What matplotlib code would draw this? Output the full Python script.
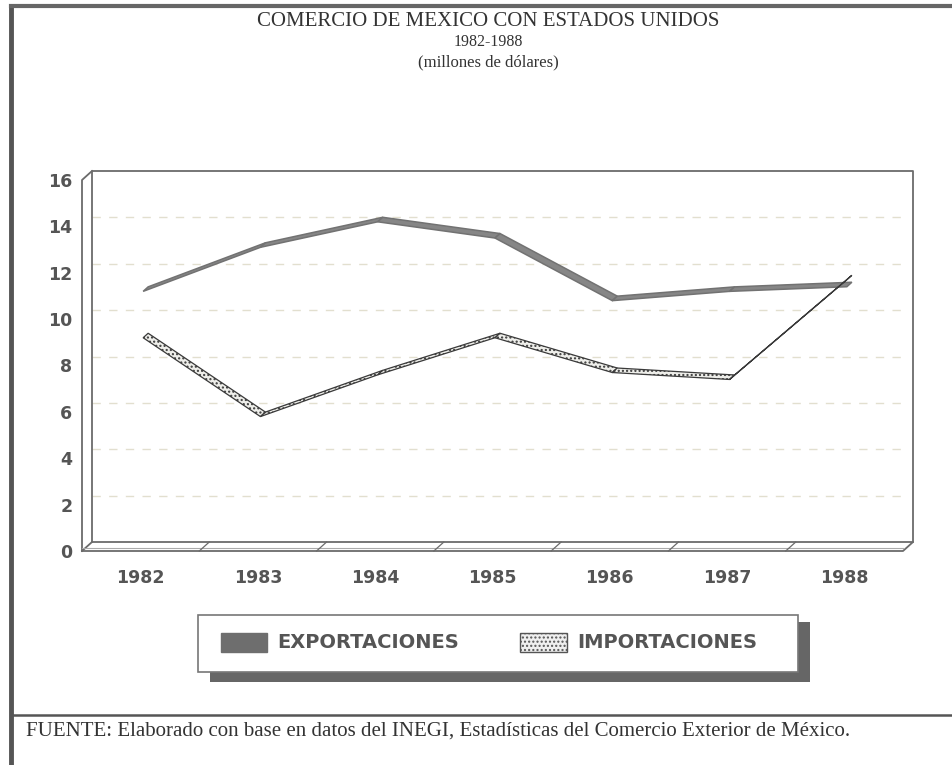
import matplotlib
matplotlib.use("Agg")
import matplotlib.pyplot as plt
from matplotlib.patches import Polygon, Rectangle

# datos (millones de dolares)
anios = ["1982", "1983", "1984", "1985", "1986", "1987", "1988"]
exportaciones = [11.1, 13.0, 14.1, 13.4, 10.7, 11.1, 11.3]
importaciones = [9.1, 5.7, 7.5, 9.1, 7.6, 7.3, 11.6]
ticks_y = [0, 2, 4, 6, 8, 10, 12, 14, 16]

W, H = 952, 765
plt.rcParams["hatch.color"] = "#bbbbbb"
fig = plt.figure(figsize=(W / 100, H / 100), dpi=100)
fig.patch.set_facecolor("white")

# ejes frontales (en pixeles de la figura)
x0, x1, ytop, ybot = 82, 903, 180, 551
ax = fig.add_axes([x0 / W, 1 - ybot / H, (x1 - x0) / W, (ybot - ytop) / H])
ax.set_xlim(-0.5, len(anios) - 0.5)
ax.set_ylim(0, 16)
ax.patch.set_alpha(0)
for s in ax.spines.values():
    s.set_visible(False)

# profundidad del "3d"
dpx, dpy = 10, 9
fx = dpx / (x1 - x0)
fy = dpy / (ybot - ytop)
# en unidades de datos
ux = dpx * (len(anios)) / (x1 - x0)
uy = dpy * 16 / (ybot - ytop)

frame_c = "#6b6b6b"
ta = ax.transAxes
# pared de fondo
ax.plot([fx, fx, 1 + fx, 1 + fx], [fy, 1 + fy, 1 + fy, fy], color=frame_c, lw=1.3,
        transform=ta, clip_on=False)
# pared izquierda
ax.plot([0, 0, fx], [0, 1, 1 + fy], color=frame_c, lw=1.3, transform=ta, clip_on=False)
# piso
ax.plot([0, 1, 1 + fx, fx], [0, 0, fy, fy], color=frame_c, lw=1.3, transform=ta, clip_on=False)
ax.plot([0, fx], [0, fy], color=frame_c, lw=1.3, transform=ta, clip_on=False)
ax.plot([0, 1], [0.35 * fy, 0.35 * fy], color="#aaaaaa", lw=0.8, transform=ta, clip_on=False)
for k in range(1, len(anios)):
    b = k / len(anios)
    ax.plot([b, b + fx], [0, fy], color=frame_c, lw=0.9, transform=ta, clip_on=False)

# lineas de rejilla en la pared de fondo
for v in ticks_y[1:-1]:
    ax.plot([-0.5 + ux, len(anios) - 0.5 + ux], [v + uy, v + uy], color="#e2dfcf",
            lw=1.0, ls=(0, (6, 6)), zorder=1)

# cintas (ribbons)
def cinta(vals, face, edge, lw, hatch=None):
    ox0, oy0 = ux * 0.25, uy * 0.25
    ox1, oy1 = ux * 0.75, uy * 0.75
    for i in range(len(vals) - 1):
        p = (i, vals[i])
        q = (i + 1, vals[i + 1])
        pts = [(p[0] + ox0, p[1] + oy0), (q[0] + ox0, q[1] + oy0),
               (q[0] + ox1, q[1] + oy1), (p[0] + ox1, p[1] + oy1)]
        ax.add_patch(Polygon(pts, closed=True, facecolor=face, edgecolor=edge,
                             lw=lw, hatch=hatch, joinstyle="miter", zorder=3))

cinta(exportaciones, "#868686", "#727272", 1.1)
cinta(importaciones, "#eeeeea", "#3a3a3a", 0.9, hatch="....")

# etiquetas de ejes
ax.set_xticks(range(len(anios)))
ax.set_xticklabels(anios)
ax.set_yticks(ticks_y)
ax.set_yticklabels([str(t) for t in ticks_y])
ax.tick_params(length=0, labelsize=12.5, labelcolor="#555555")
ax.tick_params(axis="x", pad=13)
ax.tick_params(axis="y", pad=7)
for lab in ax.get_xticklabels() + ax.get_yticklabels():
    lab.set_fontweight("bold")
    lab.set_family("DejaVu Sans")

# titulo
serif = "Liberation Serif"
fig.text(488 / W, 1 - 22 / H, "COMERCIO DE MEXICO CON ESTADOS UNIDOS", ha="center",
         va="center", fontsize=15, family=serif, color="#333333")
fig.text(488 / W, 1 - 42 / H, "1982-1988", ha="center", va="center", fontsize=11.5,
         family=serif, color="#333333")
fig.text(488 / W, 1 - 62 / H, "(millones de dólares)", ha="center", va="center",
         fontsize=12, family=serif, color="#333333")

# leyenda
fig.patches.append(Rectangle((210 / W, 1 - 682 / H), 600 / W, 60 / H, transform=fig.transFigure,
                             facecolor="#666666", edgecolor="none", zorder=1))
fig.patches.append(Rectangle((198 / W, 1 - 672 / H), 600 / W, 57 / H, transform=fig.transFigure,
                             facecolor="white", edgecolor="#777777", lw=1.2, zorder=2))
fig.patches.append(Rectangle((221 / W, 1 - 652 / H), 46 / W, 19 / H, transform=fig.transFigure,
                             facecolor="#6e6e6e", edgecolor="#6e6e6e", zorder=3))
fig.patches.append(Rectangle((520 / W, 1 - 652 / H), 47 / W, 19 / H, transform=fig.transFigure,
                             facecolor="#efefef", edgecolor="#555555", lw=1.0, hatch="....",
                             zorder=3))
fig.text(277 / W, 1 - 643 / H, "EXPORTACIONES", ha="left", va="center", fontsize=14,
         fontweight="bold", color="#555555", family="DejaVu Sans")
fig.text(577 / W, 1 - 643 / H, "IMPORTACIONES", ha="left", va="center", fontsize=14,
         fontweight="bold", color="#555555", family="DejaVu Sans")

# marco exterior y pie
fig.add_artist(plt.Line2D([11 / W, 11 / W], [0, 1 - 6 / H], color="#555555", lw=3.5))
fig.add_artist(plt.Line2D([11 / W, 1], [1 - 6 / H, 1 - 6 / H], color="#666666", lw=3))
fig.add_artist(plt.Line2D([11 / W, 1], [1 - 715 / H, 1 - 715 / H], color="#555555", lw=1.8))
fig.text(26 / W, 1 - 731 / H,
         "FUENTE: Elaborado con base en datos del INEGI, Estadísticas del Comercio Exterior de México.",
         ha="left", va="center", fontsize=15, family=serif, color="#333333")

fig.savefig("out.png", dpi=100, facecolor="white")
